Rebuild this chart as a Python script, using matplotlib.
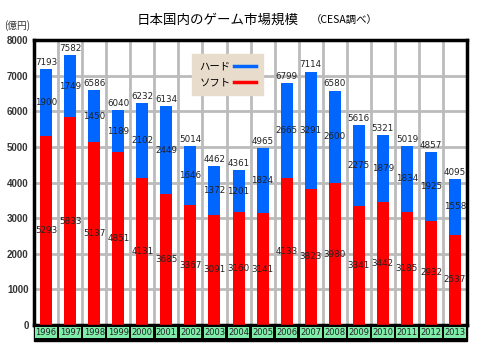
import numpy as np
import matplotlib
matplotlib.use("Agg")
import matplotlib.pyplot as plt
from matplotlib.patches import Rectangle
from matplotlib.lines import Line2D
import matplotlib.transforms as mtransforms

plt.rcParams['font.family'] = ['Noto Sans CJK JP', 'DejaVu Sans']

# data (億円)
years = ['1996', '1997', '1998', '1999', '2000', '2001', '2002', '2003', '2004',
         '2005', '2006', '2007', '2008', '2009', '2010', '2011', '2012', '2013']
soft = [5293, 5833, 5137, 4851, 4131, 3685, 3367, 3091, 3160,
        3141, 4133, 3823, 3980, 3341, 3442, 3185, 2932, 2537]
hard = [1900, 1749, 1450, 1189, 2102, 2449, 1646, 1372, 1201,
        1824, 2665, 3291, 2600, 2275, 1879, 1834, 1925, 1558]
total = [7193, 7582, 6586, 6040, 6232, 6134, 5014, 4462, 4361,
         4965, 6799, 7114, 6580, 5616, 5321, 5019, 4857, 4095]

red = '#ff0000'
blue = '#0066ff'

fig = plt.figure(figsize=(4.8, 3.6), dpi=100)
ax = fig.add_axes([0.071, 0.097, 0.902, 0.792])

x = np.arange(len(years))
ax.bar(x, soft, width=0.5, color=red, zorder=3)
ax.bar(x, hard, width=0.5, bottom=soft, color=blue, zorder=3)

ax.set_xlim(-0.5, len(years) - 0.5)
ax.set_ylim(0, 8000)

# grid
for xv in np.arange(0.5, len(years) - 0.5, 1):
    ax.axvline(xv, color='#bbbbbb', lw=2, zorder=1)
for yv in range(1000, 8000, 1000):
    ax.axhline(yv, color='#bbbbbb', lw=2, zorder=1)

for s in ax.spines.values():
    s.set_linewidth(2.5)
    s.set_color('black')

ax.set_xticks([])
ax.set_yticks(range(0, 8001, 1000))
ax.tick_params(axis='y', length=0, pad=4, labelsize=7)
for lab in ax.get_yticklabels():
    lab.set_fontfamily('Liberation Sans')
    lab.set_fontweight('bold')
    lab.set_color('#333333')

# value labels
for i in range(len(years)):
    ax.text(x[i], total[i] + 60, str(total[i]), ha='center', va='bottom',
            fontsize=6.3, color='#222222', zorder=4, family='DejaVu Sans')
    ax.text(x[i], soft[i] + hard[i] / 2, str(hard[i]), ha='center', va='center',
            fontsize=6.3, color='#222222', zorder=4, family='DejaVu Sans')
    ax.text(x[i], soft[i] / 2, str(soft[i]), ha='center', va='center',
            fontsize=6.3, color='#222222', zorder=4, family='DejaVu Sans')

# year strip under the axis
trans = mtransforms.blended_transform_factory(ax.transData, ax.transAxes)
ax.add_patch(Rectangle((-0.5, -0.055), len(years), 0.055, transform=trans,
                       facecolor='black', edgecolor='black', clip_on=False, zorder=5))
for i, yr in enumerate(years):
    ax.add_patch(Rectangle((i - 0.45, -0.046), 0.9, 0.038, transform=trans,
                           facecolor='#80ecaa', edgecolor='none', clip_on=False, zorder=6))
    ax.text(i, -0.027, yr, transform=trans, ha='center', va='center',
            fontsize=6, color='#222222', zorder=7, family='DejaVu Sans')

# legend
handles = [Line2D([0], [0], color=blue, lw=2.5), Line2D([0], [0], color=red, lw=2.5)]
leg = ax.legend(handles, ['ハード', 'ソフト'], loc='upper left',
                bbox_to_anchor=(0.365, 0.951), markerfirst=False, fontsize=7.5,
                frameon=True, fancybox=False, handlelength=2.1, handletextpad=0.3,
                borderpad=0.7, labelspacing=0.6, borderaxespad=0)
leg.get_frame().set_facecolor('#e8dccc')
leg.get_frame().set_edgecolor('#e8dccc')
leg.get_frame().set_alpha(1)
leg.set_zorder(8)

fig.text(0.035, 0.928, '(億円)', ha='center', va='center', fontsize=7,
         color='#333333')
fig.text(0.454, 0.944, '日本国内のゲーム市場規模', ha='center', va='center', fontsize=9.7)
fig.text(0.717, 0.944, '（CESA調べ）', ha='center', va='center', fontsize=7.5)

fig.savefig('out.png', dpi=100)
